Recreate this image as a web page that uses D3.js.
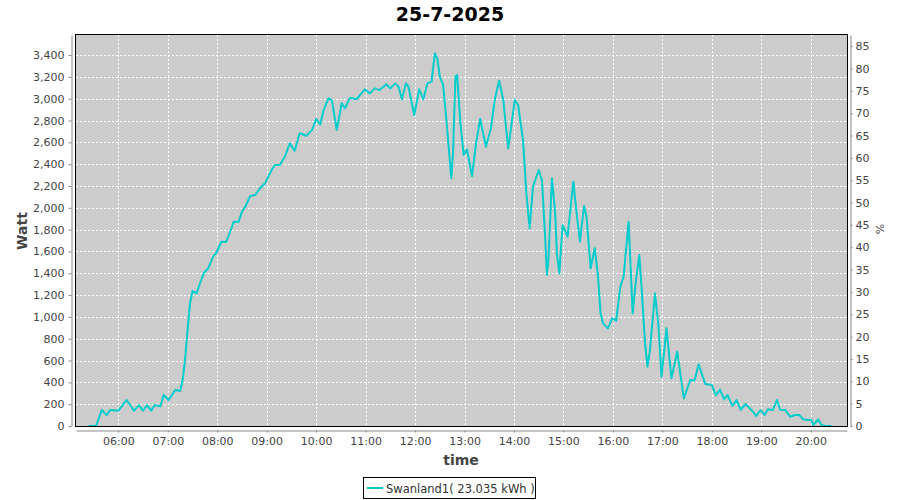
<!DOCTYPE html>
<html>
<head>
<meta charset="utf-8">
<script src="https://cdn.jsdelivr.net/npm/d3@7"></script>
<style>
  body { margin: 0; background: #fff; }
  svg { display: block; }
  text { font-family: "DejaVu Sans", sans-serif; }
</style>
</head>
<body>
<svg id="chart" width="900" height="500"></svg>
<script>
// ---- data ----
const title = "25-7-2025";
const seriesName = "Swanland1( 23.035 kWh )";
const times = ["05:24","05:33","05:40","05:46","05:50","06:00","06:10","06:19","06:25","06:30","06:35","06:40","06:44","06:51","06:55","07:01","07:09","07:15","07:18","07:21","07:24","07:27","07:30","07:35","07:39","07:44","07:49","07:55","07:59","08:05","08:11","08:18","08:20","08:26","08:30","08:34","08:40","08:46","08:52","08:58","09:06","09:10","09:16","09:22","09:28","09:34","09:40","09:48","09:55","10:00","10:05","10:09","10:15","10:19","10:25","10:31","10:35","10:41","10:49","10:59","11:05","11:11","11:17","11:25","11:30","11:36","11:40","11:44","11:49","11:52","11:59","12:05","12:10","12:15","12:20","12:24","12:27","12:30","12:34","12:38","12:44","12:46","12:49","12:51","12:55","12:59","13:03","13:09","13:14","13:19","13:26","13:32","13:37","13:42","13:47","13:53","14:01","14:05","14:11","14:15","14:19","14:23","14:30","14:34","14:38","14:40","14:42","14:46","14:50","14:52","14:55","14:59","15:05","15:08","15:12","15:16","15:20","15:25","15:28","15:33","15:38","15:42","15:45","15:48","15:54","15:59","16:04","16:09","16:13","16:19","16:24","16:28","16:32","16:35","16:39","16:42","16:45","16:51","16:55","16:59","17:05","17:11","17:18","17:26","17:34","17:39","17:44","17:52","18:00","18:05","18:10","18:15","18:19","18:25","18:30","18:35","18:41","18:48","18:54","18:59","19:04","19:08","19:14","19:19","19:23","19:29","19:35","19:41","19:46","19:51","19:57","20:01","20:03","20:09","20:13","20:17","20:25"];
const watts = [0,0,147,100,147,140,238,140,192,140,192,140,192,180,284,238,330,320,421,605,880,1125,1237,1216,1308,1405,1445,1552,1588,1689,1689,1827,1873,1873,1964,2010,2108,2117,2179,2225,2346,2392,2392,2468,2591,2523,2683,2661,2713,2814,2765,2896,3004,2988,2713,2958,2912,3009,2995,3086,3049,3095,3080,3132,3095,3141,3110,2995,3141,3110,2851,3086,2995,3141,3156,3416,3370,3202,3126,2805,2270,2500,3202,3217,2775,2484,2536,2291,2591,2814,2560,2729,3004,3165,2988,2545,2988,2942,2621,2133,1812,2193,2346,2250,1700,1384,1552,2270,1950,1583,1400,1842,1735,1950,2239,1950,1689,2017,1918,1445,1629,1368,1033,941,895,987,965,1277,1368,1873,1033,1338,1567,1247,758,544,697,1216,941,452,895,437,681,254,422,418,565,385,376,280,333,244,284,183,238,147,202,147,92,147,101,153,147,238,147,147,85,101,101,61,55,55,9,61,9,0,0];
const wattTicks = [0,200,400,600,800,1000,1200,1400,1600,1800,2000,2200,2400,2600,2800,3000,3200,3400];
const pctTicks = [0,5,10,15,20,25,30,35,40,45,50,55,60,65,70,75,80,85];
const hourTicks = ["06:00","07:00","08:00","09:00","10:00","11:00","12:00","13:00","14:00","15:00","16:00","17:00","18:00","19:00","20:00"];

// ---- layout ----
const svg = d3.select("#chart");
const P = { left: 76, right: 847, top: 35, bottom: 426 };
const parse = d3.timeParse("%H:%M");
const data = times.map((t, i) => ({ t: parse(t), v: watts[i] }));

const x = d3.scaleTime()
  .domain([new Date(1900, 0, 1, 5, 8, 40), new Date(1900, 0, 1, 20, 44, 0)])
  .range([P.left, P.right]);
const y = d3.scaleLinear().domain([0, 3584]).range([P.bottom, P.top]);
const yR = d3.scaleLinear().domain([0, 87.5]).range([P.bottom, P.top]);

// plot background
svg.append("rect")
  .attr("x", P.left).attr("y", P.top)
  .attr("width", P.right - P.left).attr("height", P.bottom - P.top)
  .attr("fill", "#cccccc");

// grid
const grid = svg.append("g").attr("stroke", "#ffffff").attr("stroke-width", 1).attr("stroke-dasharray", "2,2");
grid.selectAll("line.h").data(wattTicks.slice(1)).join("line")
  .attr("x1", P.left).attr("x2", P.right)
  .attr("y1", d => Math.round(y(d)) + 0.5).attr("y2", d => Math.round(y(d)) + 0.5);
grid.selectAll("line.v").data(hourTicks).join("line")
  .attr("y1", P.top).attr("y2", P.bottom)
  .attr("x1", d => Math.round(x(parse(d))) + 0.5).attr("x2", d => Math.round(x(parse(d))) + 0.5);

// line
svg.append("defs").append("clipPath").attr("id", "clip")
  .append("rect").attr("x", P.left).attr("y", P.top)
  .attr("width", P.right - P.left).attr("height", P.bottom - P.top);
svg.append("path")
  .datum(data)
  .attr("clip-path", "url(#clip)")
  .attr("fill", "none")
  .attr("stroke", "#00cccc")
  .attr("stroke-width", 2)
  .attr("stroke-linejoin", "round")
  .attr("d", d3.line().x(d => x(d.t)).y(d => y(d.v)));

// plot border
svg.append("rect")
  .attr("x", P.left - 0.5).attr("y", P.top - 0.5)
  .attr("width", P.right - P.left + 1).attr("height", P.bottom - P.top + 1)
  .attr("fill", "none").attr("stroke", "#000").attr("stroke-width", 1);

// axes
function styleAxis(g) {
  g.select(".domain").attr("stroke", "#888");
  g.selectAll(".tick line").attr("stroke", "#888");
  g.selectAll(".tick text").attr("fill", "#444").attr("font-size", "11px")
    .attr("font-family", "DejaVu Sans, sans-serif");
}
svg.append("g").attr("transform", "translate(71.5,0)")
  .call(d3.axisLeft(y).tickValues(wattTicks).tickFormat(d3.format(",")).tickSize(3).tickSizeOuter(0).tickPadding(4))
  .call(styleAxis);
svg.append("g").attr("transform", "translate(850.5,0)")
  .call(d3.axisRight(yR).tickValues(pctTicks).tickSize(2).tickSizeOuter(0).tickPadding(3))
  .call(styleAxis);
svg.append("g").attr("transform", "translate(0,430.5)")
  .call(d3.axisBottom(x).tickValues(hourTicks.map(parse)).tickFormat(d3.timeFormat("%H:%M")).tickSize(2).tickSizeOuter(0).tickPadding(5))
  .call(styleAxis);

// titles
svg.append("text").attr("x", 450).attr("y", 21).attr("text-anchor", "middle")
  .attr("font-size", "19px").attr("font-weight", "bold").attr("fill", "#000").text(title);
svg.append("text").attr("transform", "translate(27,231) rotate(-90)").attr("text-anchor", "middle")
  .attr("font-size", "14px").attr("font-weight", "bold").attr("fill", "#444").text("Watt");
svg.append("text").attr("transform", "translate(884,229) rotate(-90)").attr("text-anchor", "middle")
  .attr("font-size", "11px").attr("fill", "#444").text("%");
svg.append("text").attr("x", 461).attr("y", 465).attr("text-anchor", "middle")
  .attr("font-size", "14px").attr("font-weight", "bold").attr("fill", "#444").text("time");

// legend
const lg = svg.append("g");
lg.append("rect").attr("x", 363.5).attr("y", 477.5).attr("width", 172).attr("height", 21)
  .attr("fill", "#fff").attr("stroke", "#000");
lg.append("line").attr("x1", 367).attr("x2", 383).attr("y1", 488).attr("y2", 488)
  .attr("stroke", "#00cccc").attr("stroke-width", 2);
lg.append("text").attr("x", 386).attr("y", 492.5).attr("font-size", "11.5px").attr("fill", "#333").text(seriesName);
</script>
</body>
</html>
